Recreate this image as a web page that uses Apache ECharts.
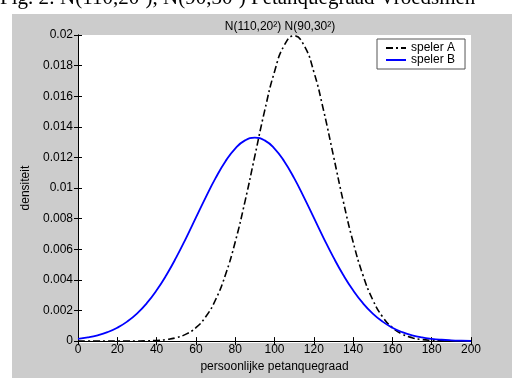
<!DOCTYPE html>
<html>
<head>
<meta charset="utf-8">
<script src="https://cdn.jsdelivr.net/npm/echarts@6/dist/echarts.min.js"></script>
<style>html,body{margin:0;padding:0;background:#fff;}#c{width:512px;height:378px;}</style>
</head>
<body>
<div id="c"></div>
<script>
var xValues = [0,5,10,15,20,25,30,35,40,45,50,55,60,65,70,75,80,85,90,95,100,105,110,115,120,125,130,135,140,145,150,155,160,165,170,175,180,185,190,195,200];
var spelerA = [0,0,0,0,0,0,0.000007,0.000018,0.000044,0.000102,0.000222,0.000455,0.000876,0.001587,0.0027,0.004315,0.006476,0.009132,0.012099,0.015057,0.017603,0.019333,0.019947,0.019333,0.017603,0.015057,0.012099,0.009132,0.006476,0.004315,0.0027,0.001587,0.000876,0.000455,0.000222,0.000102,0.000044,0.000018,0.000007,0.000002,0.000001];
var spelerB = [0.000148,0.00024,0.00038,0.000584,0.000874,0.001272,0.0018,0.002476,0.003316,0.004318,0.005467,0.006733,0.008066,0.009397,0.010648,0.011736,0.01258,0.013114,0.013298,0.013114,0.01258,0.011736,0.010648,0.009397,0.008066,0.006733,0.005467,0.004318,0.003316,0.002476,0.0018,0.001272,0.000874,0.000584,0.00038,0.00024,0.000148,0.000088,0.000051,0.000029,0.000016];
var seriesNames = ['speler A','speler B'];
var titleText = 'N(110,20²) N(90,30²)';
var xName = 'persoonlijke petanquegraad';
var yName = 'densiteit';
var captionText = 'Fig. 2: N(110,20²), N(90,30²) Petanquegraad Vroedsmen';

function pairs(ys){ return xValues.map(function(x,i){ return [x, ys[i]]; }); }

var font = 'Liberation Sans, Arial, sans-serif';
var chart = echarts.init(document.getElementById('c'), null, {renderer:'canvas'});
var axisCommon = {
  type:'value',
  axisLine:{show:true, lineStyle:{color:'#000', width:1}},
  axisTick:{show:true, inside:true, length:4, lineStyle:{color:'#000'}},
  splitLine:{show:false}
};
chart.setOption({
  backgroundColor:'#ffffff',
  animation:false,
  graphic:[
    {type:'rect', z:-10, silent:true, shape:{x:12,y:14,width:500,height:364}, style:{fill:'#cccccc'}},
    {type:'rect', z:-9, silent:true, shape:{x:78,y:35,width:393,height:308}, style:{fill:'#ffffff'}},
    {type:'text', z:-11, left:0, top:-12, style:{text:captionText, font:'21px "Liberation Serif", serif', fill:'#000'}}
  ],
  title:{
    text:titleText, left:275, top:16, textAlign:'center',
    textStyle:{fontFamily:font, fontSize:12, fontWeight:'normal', color:'#000'}
  },
  legend:{
    data:seriesNames, orient:'vertical', left:377, top:39,
    backgroundColor:'#fff', borderColor:'#555', borderWidth:1,
    padding:[3,10,3,8], itemGap:0, itemWidth:20, itemHeight:14,
    itemStyle:{opacity:0, borderWidth:0},
    textStyle:{fontFamily:font, fontSize:12, color:'#000'}
  },
  grid:{left:78, top:35, right:41, bottom:35, containLabel:false},
  xAxis:[
    Object.assign({}, axisCommon, {
      min:0, max:200, interval:20, position:'bottom',
      name:xName, nameLocation:'middle', nameGap:17,
      nameTextStyle:{fontFamily:font, fontSize:12, color:'#000'},
      axisLabel:{fontFamily:font, fontSize:12, color:'#000', margin:3}
    }),
    Object.assign({}, axisCommon, {min:0, max:200, interval:20, position:'top', axisLabel:{show:false}})
  ],
  yAxis:[
    Object.assign({}, axisCommon, {
      min:0, max:0.02, interval:0.002, position:'left',
      name:yName, nameLocation:'middle', nameGap:39,
      nameTextStyle:{fontFamily:font, fontSize:12, color:'#000'},
      axisLabel:{fontFamily:font, fontSize:12, color:'#000', margin:5}
    }),
    Object.assign({}, axisCommon, {min:0, max:0.02, interval:0.002, position:'right', axisLabel:{show:false}})
  ],
  series:[
    {name:seriesNames[0], type:'line', data:pairs(spelerA), smooth:true, symbol:'none',
     xAxisIndex:0, yAxisIndex:0, color:'#000',
     lineStyle:{color:'#000', width:1.6, type:[7,3,2,3]}},
    {name:seriesNames[1], type:'line', data:pairs(spelerB), smooth:true, symbol:'none',
     xAxisIndex:0, yAxisIndex:0, color:'#0000ff',
     lineStyle:{color:'#0000ff', width:1.8, type:'solid'}}
  ]
});
</script>
</body>
</html>
